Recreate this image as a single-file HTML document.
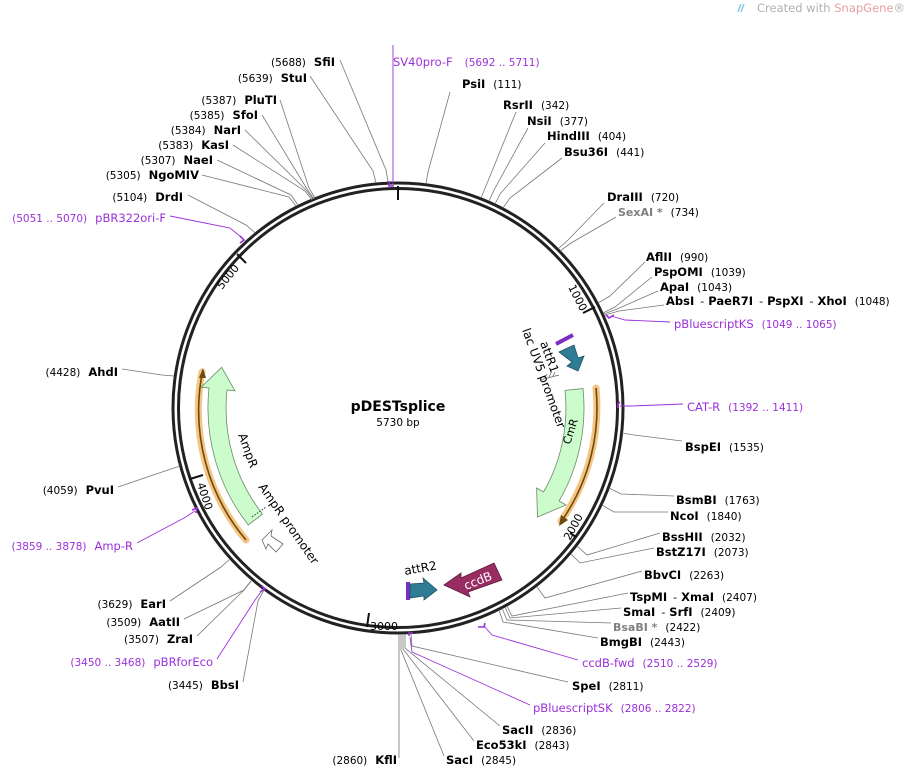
<!DOCTYPE html>
<html><head><meta charset="utf-8"><style>
html,body{margin:0;padding:0;background:#fff;width:907px;height:768px;overflow:hidden}
svg{display:block}
text{font-family:"DejaVu Sans","Liberation Sans",sans-serif;font-size:11px;fill:#000}
.b{font-weight:bold;font-size:11.5px}
.n{font-size:10.5px}
.p{fill:#9b30d9;font-size:11.5px}
.pn{fill:#9b30d9;font-size:10.5px}
.g{fill:#808080;font-weight:bold}
.gn{fill:#808080;font-size:10.5px}
.l{stroke:#777;stroke-width:0.8;fill:none}
.lp{stroke:#9b30d9;stroke-width:0.9;fill:none}
</style></head><body>
<svg width="907" height="768" viewBox="0 0 907 768" xmlns="http://www.w3.org/2000/svg">
<text x="757" y="12" style="fill:#b0b0b0;font-size:11.5px">Created with <tspan style="fill:#e8a0a0">SnapGene</tspan>®</text>
<path d="M741,4 l-3,8 M744,4 l-3,8" stroke="#8ec8e8" stroke-width="1.5"/>

<!-- backbone -->
<circle cx="398" cy="408" r="225" fill="none" stroke="#222" stroke-width="3"/>
<circle cx="398" cy="408" r="219.5" fill="none" stroke="#222" stroke-width="3"/>
<!-- ticks -->
<g stroke="#111" stroke-width="2">
<line x1="398" y1="186" x2="398" y2="200"/>
<line x1="595" y1="307" x2="583" y2="313"/>
<line x1="576" y1="537" x2="570" y2="533"/>
<line x1="367" y1="627" x2="369" y2="613"/>
<line x1="190" y1="479" x2="203" y2="475"/>
<line x1="237" y1="254" x2="246" y2="263"/>
</g>
<text x="568" y="287" transform="rotate(63 568 287)">1000</text>
<text x="570" y="541" transform="rotate(-62 570 541)">2000</text>
<text x="370" y="630">3000</text>
<text x="197" y="484" transform="rotate(72 197 484)">4000</text>
<text x="222" y="290" transform="rotate(-51 222 290)">5000</text>

<!-- center -->
<text x="398" y="411" text-anchor="middle" style="font-weight:bold;font-size:14px">pDESTsplice</text>
<text x="398" y="426" text-anchor="middle" style="font-size:10.5px">5730 bp</text>

<!-- CmR orange arc -->
<path d="M596,388 A199,199 0 0 1 561,521" fill="none" stroke="#f6c583" stroke-width="7" stroke-linecap="round"/>
<path d="M596,388 A199,199 0 0 1 563,519" fill="none" stroke="#6b4a10" stroke-width="1.6"/>
<polygon points="559,526 561,515 568,520" fill="#6b4a10"/>
<!-- CmR -->
<path d="M583,388.6 A186,186 0 0 1 559.1,501 L566,505 L537.5,517 L536.6,488 L543.5,492 A168,168 0 0 0 565,390.4 Z" fill="#ccfccc" stroke="#6a8a6a" stroke-width="0.8"/>
<text x="570" y="445" transform="rotate(-72 570 445)">CmR</text>

<!-- AmpR orange arc -->
<path d="M246,540 A201,201 0 0 1 202,372" fill="none" stroke="#f6c583" stroke-width="7" stroke-linecap="round"/>
<path d="M246,540 A201,201 0 0 1 202,374" fill="none" stroke="#6b4a10" stroke-width="1.6"/>
<polygon points="203,368 199,378 206,378" fill="#6b4a10"/>
<!-- AmpR -->
<path d="M262.5,514 A172,172 0 0 1 227,390 L235,390.9 L221.7,367.3 L201,387.3 L209,388 A190,190 0 0 0 248.3,525 Z" fill="#ccfccc" stroke="#6a8a6a" stroke-width="0.8"/>
<line x1="252" y1="517" x2="266" y2="507" stroke="#333" stroke-dasharray="1.5,1.5"/>
<text x="238" y="435" transform="rotate(70 238 435)" style="font-size:12px">AmpR</text>
<text x="258" y="487" transform="rotate(55 258 487)" style="font-size:12px">AmpR promoter</text>
<polygon points="262,540 272,530 271,536 283,544 276,552 268,544 266,549" fill="#fff" stroke="#666" stroke-width="0.8"/>

<!-- attR1 / lac -->
<line x1="556" y1="344" x2="573" y2="335" stroke="#7b2fc0" stroke-width="4"/>
<polygon points="559,352 574,345 578,358 584,356 578,371 567,366 572,362" fill="#2e7d95" stroke="#1d5060" stroke-width="0.8"/>
<path d="M540,380 L559,375 M545,378 l2,-4 M549,377 l2,-4 M553,376 l2,-4" stroke="#666" stroke-width="0.8" fill="none"/>
<text x="540" y="343" transform="rotate(70 540 343)" style="font-size:12px">attR1</text>
<text x="522" y="330" transform="rotate(70 522 330)" style="font-size:12px">lac UV5 promoter</text>

<!-- attR2 / ccdB -->
<text x="405" y="575" transform="rotate(-10 405 575)" style="font-size:12px">attR2</text>
<rect x="406" y="582" width="4" height="18" fill="#7b2fc0"/>
<polygon points="410,584 424,583 423,578 437,590 424,600 424,596 410,598" fill="#2e7d95" stroke="#1d5060" stroke-width="0.8"/>
<polygon points="444,585 461,573 461,578 494,563 502,580 468,592 470,597" fill="#992c62" stroke="#5e1a3c" stroke-width="0.8"/>
<text x="466" y="590" transform="rotate(-22 466 590)" style="fill:#fff;font-size:12px">ccdB</text>

<!-- purple marks on backbone -->
<g stroke="#9b30d9" stroke-width="1.6" fill="none">
<path d="M389,181 L389,186 L394,186"/>
<path d="M606,315 L609,318 L614,315"/>
<path d="M620,402 L618,404 L618,408"/>
<path d="M485,623 L484,627 L478,627"/>
<path d="M409,636 L409,633 L413,633"/>
<path d="M262,586 L265,589 L260,592"/>
<path d="M196,513 L197,508 L192,510"/>
<path d="M240,236 L244,240 L240,243"/>
</g>

<!-- connector lines right -->
<g class="l">
<polyline points="426,184 428,172 450,92"/>
<polyline points="481,198 486,186 516,112"/>
<polyline points="489,201 494,190 528,128"/>
<polyline points="495,204 500,194 545,143"/>
<polyline points="503,208 510,198 562,158"/>
<polyline points="558,249 568,240 604,203"/>
<polyline points="560,251 571,243 616,217"/>
<polyline points="598,303 610,296 645,262"/>
<polyline points="603,313 615,307 652,277"/>
<polyline points="604,314 617,309 658,291"/>
<polyline points="605,315 619,311 664,305"/>
<polyline points="622,433 634,435 682,441"/>
<polyline points="609,488 621,494 674,496"/>
<polyline points="602,505 614,512 668,512"/>
<polyline points="577,546 587,555 660,533"/>
<polyline points="571,554 580,563 654,548"/>
<polyline points="537,587 545,598 642,571"/>
<polyline points="507,606 512,616 628,593"/>
<polyline points="505,607 510,618 621,608"/>
<polyline points="502,608 507,620 611,623"/>
<polyline points="499,610 503,622 598,638"/>
<polyline points="411,634 412,646 568,682"/>
<polyline points="405,634 405,648 500,726"/>
<polyline points="403,634 403,649 474,741"/>
<polyline points="401,634 401,650 444,756"/>
<polyline points="399,634 399,650 399,758"/>
</g>
<g class="lp">
<line x1="393" y1="45" x2="393" y2="184"/>
<polyline points="611,316 625,320 670,322"/>
<polyline points="620,406 632,406 683,404"/>
<polyline points="484,626 492,635 578,660"/>
<polyline points="410,637 412,652 530,705"/>
</g>

<!-- connector lines left -->
<g class="l">
<polyline points="388,182 386,170 340,60"/>
<polyline points="376,183 373,171 310,76"/>
<polyline points="315,198 309,188 280,100"/>
<polyline points="314,199 307,189 262,115"/>
<polyline points="313,199 306,190 245,130"/>
<polyline points="312,200 305,191 233,145"/>
<polyline points="298,205 291,195 217,160"/>
<polyline points="296,206 289,197 202,175"/>
<polyline points="255,233 246,225 188,195"/>
<polyline points="174,376 162,375 122,369"/>
<polyline points="180,466 168,470 118,487"/>
<polyline points="230,559 221,567 170,601"/>
<polyline points="252,580 244,590 184,619"/>
<polyline points="251,581 243,591 197,636"/>
<polyline points="264,590 258,601 243,682"/>
</g>
<g class="lp">
<polyline points="241,237 230,228 170,216"/>
<polyline points="195,511 184,518 137,543"/>
<polyline points="263,589 255,600 217,659"/>
</g>

<!-- right labels -->
<text x="462" y="88"><tspan class="b">PsiI</tspan><tspan class="n" dx="8">(111)</tspan></text>
<text x="503" y="109"><tspan class="b">RsrII</tspan><tspan class="n" dx="8">(342)</tspan></text>
<text x="527" y="125"><tspan class="b">NsiI</tspan><tspan class="n" dx="8">(377)</tspan></text>
<text x="547" y="140"><tspan class="b">HindIII</tspan><tspan class="n" dx="8">(404)</tspan></text>
<text x="564" y="156"><tspan class="b">Bsu36I</tspan><tspan class="n" dx="8">(441)</tspan></text>
<text x="607" y="201"><tspan class="b">DraIII</tspan><tspan class="n" dx="8">(720)</tspan></text>
<text x="618" y="216"><tspan class="g">SexAI *</tspan><tspan class="n" dx="8">(734)</tspan></text>
<text x="646" y="261"><tspan class="b">AflII</tspan><tspan class="n" dx="8">(990)</tspan></text>
<text x="654" y="276"><tspan class="b">PspOMI</tspan><tspan class="n" dx="8">(1039)</tspan></text>
<text x="660" y="291"><tspan class="b">ApaI</tspan><tspan class="n" dx="8">(1043)</tspan></text>
<text x="666" y="305"><tspan class="b">AbsI</tspan><tspan dx="6">-</tspan><tspan class="b" dx="4">PaeR7I</tspan><tspan dx="6">-</tspan><tspan class="b" dx="4">PspXI</tspan><tspan dx="6">-</tspan><tspan class="b" dx="4">XhoI</tspan><tspan class="n" dx="8">(1048)</tspan></text>
<text x="674" y="328"><tspan class="p">pBluescriptKS</tspan><tspan class="pn" dx="8">(1049 .. 1065)</tspan></text>
<text x="687" y="411"><tspan class="p">CAT-R</tspan><tspan class="pn" dx="8">(1392 .. 1411)</tspan></text>
<text x="685" y="451"><tspan class="b">BspEI</tspan><tspan class="n" dx="8">(1535)</tspan></text>
<text x="676" y="504"><tspan class="b">BsmBI</tspan><tspan class="n" dx="8">(1763)</tspan></text>
<text x="670" y="520"><tspan class="b">NcoI</tspan><tspan class="n" dx="8">(1840)</tspan></text>
<text x="662" y="541"><tspan class="b">BssHII</tspan><tspan class="n" dx="8">(2032)</tspan></text>
<text x="656" y="556"><tspan class="b">BstZ17I</tspan><tspan class="n" dx="8">(2073)</tspan></text>
<text x="644" y="579"><tspan class="b">BbvCI</tspan><tspan class="n" dx="8">(2263)</tspan></text>
<text x="630" y="601"><tspan class="b">TspMI</tspan><tspan dx="6">-</tspan><tspan class="b" dx="4">XmaI</tspan><tspan class="n" dx="8">(2407)</tspan></text>
<text x="623" y="616"><tspan class="b">SmaI</tspan><tspan dx="6">-</tspan><tspan class="b" dx="4">SrfI</tspan><tspan class="n" dx="8">(2409)</tspan></text>
<text x="613" y="631"><tspan class="g">BsaBI *</tspan><tspan class="n" dx="8">(2422)</tspan></text>
<text x="600" y="646"><tspan class="b">BmgBI</tspan><tspan class="n" dx="8">(2443)</tspan></text>
<text x="582" y="667"><tspan class="p">ccdB-fwd</tspan><tspan class="pn" dx="8">(2510 .. 2529)</tspan></text>
<text x="572" y="690"><tspan class="b">SpeI</tspan><tspan class="n" dx="8">(2811)</tspan></text>
<text x="533" y="712"><tspan class="p">pBluescriptSK</tspan><tspan class="pn" dx="8">(2806 .. 2822)</tspan></text>
<text x="502" y="734"><tspan class="b">SacII</tspan><tspan class="n" dx="8">(2836)</tspan></text>
<text x="476" y="749"><tspan class="b">Eco53kI</tspan><tspan class="n" dx="8">(2843)</tspan></text>
<text x="446" y="764"><tspan class="b">SacI</tspan><tspan class="n" dx="8">(2845)</tspan></text>
<text x="397" y="764" text-anchor="end"><tspan class="n">(2860)</tspan><tspan class="b" dx="8">KflI</tspan></text>
<text x="393" y="66"><tspan class="p">SV40pro-F</tspan><tspan class="pn" dx="12">(5692 .. 5711)</tspan></text>

<!-- left labels -->
<g text-anchor="end">
<text x="335" y="66"><tspan class="n">(5688)</tspan><tspan class="b" dx="8">SfiI</tspan></text>
<text x="307" y="82"><tspan class="n">(5639)</tspan><tspan class="b" dx="8">StuI</tspan></text>
<text x="277" y="104"><tspan class="n">(5387)</tspan><tspan class="b" dx="8">PluTI</tspan></text>
<text x="258" y="119"><tspan class="n">(5385)</tspan><tspan class="b" dx="8">SfoI</tspan></text>
<text x="241" y="134"><tspan class="n">(5384)</tspan><tspan class="b" dx="8">NarI</tspan></text>
<text x="229" y="149"><tspan class="n">(5383)</tspan><tspan class="b" dx="8">KasI</tspan></text>
<text x="213" y="164"><tspan class="n">(5307)</tspan><tspan class="b" dx="8">NaeI</tspan></text>
<text x="199" y="179"><tspan class="n">(5305)</tspan><tspan class="b" dx="8">NgoMIV</tspan></text>
<text x="183" y="201"><tspan class="n">(5104)</tspan><tspan class="b" dx="8">DrdI</tspan></text>
<text x="166" y="222"><tspan class="pn">(5051 .. 5070)</tspan><tspan class="p" dx="8">pBR322ori-F</tspan></text>
<text x="118" y="376"><tspan class="n">(4428)</tspan><tspan class="b" dx="8">AhdI</tspan></text>
<text x="114" y="494"><tspan class="n">(4059)</tspan><tspan class="b" dx="8">PvuI</tspan></text>
<text x="133" y="550"><tspan class="pn">(3859 .. 3878)</tspan><tspan class="p" dx="8">Amp-R</tspan></text>
<text x="166" y="608"><tspan class="n">(3629)</tspan><tspan class="b" dx="8">EarI</tspan></text>
<text x="180" y="626"><tspan class="n">(3509)</tspan><tspan class="b" dx="8">AatII</tspan></text>
<text x="193" y="643"><tspan class="n">(3507)</tspan><tspan class="b" dx="8">ZraI</tspan></text>
<text x="213" y="666"><tspan class="pn">(3450 .. 3468)</tspan><tspan class="p" dx="8">pBRforEco</tspan></text>
<text x="239" y="689"><tspan class="n">(3445)</tspan><tspan class="b" dx="8">BbsI</tspan></text>
</g>
</svg>
</body></html>
